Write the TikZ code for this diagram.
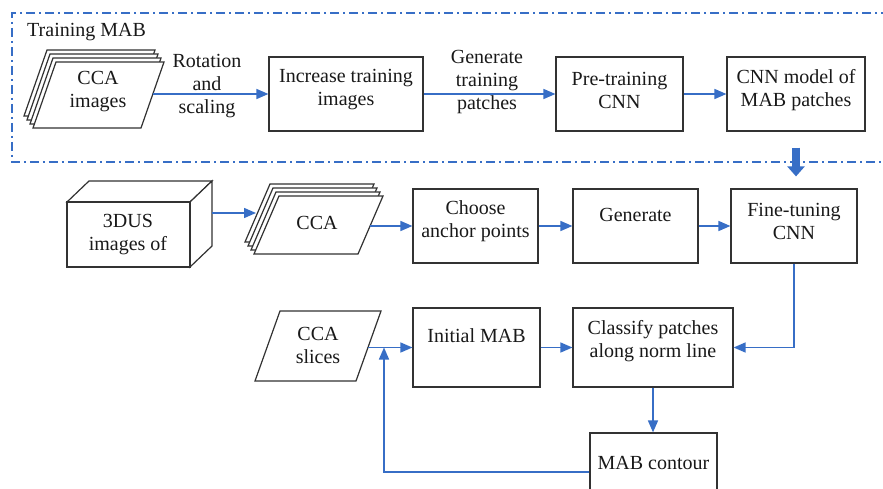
\documentclass[tikz,border=0pt]{standalone}
\usepackage{fontspec}
\setmainfont{Liberation Serif}
\usetikzlibrary{arrows.meta}
\definecolor{lblue}{RGB}{55,110,198}
\definecolor{bdr}{RGB}{50,50,50}
\definecolor{ink}{RGB}{25,25,25}
\begin{document}
\begin{tikzpicture}[x=1pt,y=-1pt,
  box/.style={draw=bdr, line width=1.2pt, fill=white, inner sep=0pt},
  txt/.style={font=\fontsize{20}{23}\selectfont, text=ink, align=center, inner sep=0pt},
  conn/.style={draw=lblue, line width=1.5pt, -{Triangle[length=12pt,width=10pt]}},
  shp/.style={draw=bdr, line width=1.2pt, fill=white, line join=miter},
  frame/.style={draw=lblue, line width=1.5pt, dash pattern=on 9pt off 4pt on 2pt off 4pt}]
\clip (0,0) rectangle (883,489);
\fill[white] (0,0) rectangle (883,489);

% training frame (open on the right)
\draw[frame] (890,13) -- (12,13) -- (12,162) -- (890,162);
\node[txt, anchor=west] (trainlbl) at (27,32) {Training MAB};

% ---- top row ----
\foreach \k in {3,2,1,0}
  \draw[shp, shift={(-3*\k,-4*\k)}] (33,128) -- (141,128) -- (164,62) -- (56,62) -- cycle;
\node[txt] (ccaimg) at (98,92) {CCA\\images};
\coordinate (ccaimgE) at (152.5,94);

\node[box, minimum width=154pt, minimum height=74pt] (inc) at (346,94) {};
\node[txt] (inctxt) at (346,90) {Increase training\\images};
\node[box, minimum width=127pt, minimum height=74pt] (pre) at (619.5,94) {};
\node[txt] (pretxt) at (619.5,90) {Pre-training\\CNN};
\node[box, minimum width=138pt, minimum height=74pt] (model) at (796,94) {};
\node[txt] (modeltxt) at (796,90) {CNN model of\\MAB patches};

\draw[conn] (ccaimgE) -- (inc.west);
\node[txt] (rot) at (207,86) {Rotation\\and\\scaling};
\draw[conn] (inc.east) -- (pre.west);
\node[txt] (gtp) at (487,82) {Generate\\training\\patches};
\draw[conn] (pre.east) -- (model.west);

% ---- middle row ----
\draw[shp] (67,202) -- (89,181) -- (212,181) -- (190,202) -- cycle;
\draw[shp] (190,202) -- (212,181) -- (212,246) -- (190,267) -- cycle;
\node[box, minimum width=123pt, minimum height=65pt] (cube) at (128.5,234.5) {};
\node[txt] (cubetxt) at (128,235) {3DUS\\images of};

\foreach \k in {3,2,1,0}
  \draw[shp, shift={(-3*\k,-4*\k)}] (254,254) -- (358,254) -- (383,196) -- (279,196) -- cycle;
\node[txt] (cca) at (317,223) {CCA};
\coordinate (cubeE) at (212,213);
\coordinate (ccaW) at (256,213);
\coordinate (ccaE) at (369.5,226);

\node[box, minimum width=125pt, minimum height=74pt] (choose) at (475.5,226) {};
\node[txt] (choosetxt) at (475.5,221) {Choose\\anchor points};
\node[box, minimum width=125pt, minimum height=74pt] (gen) at (635.5,226) {};
\node[txt] (gentxt) at (635.5,215) {Generate};
\node[box, minimum width=126pt, minimum height=74pt] (fine) at (794,226) {};
\node[txt] (finetxt) at (794,221) {Fine-tuning\\CNN};

\draw[lblue, line width=8pt, -{Triangle[length=10pt,width=17pt]}, shorten <=16pt, shorten >=12pt]
  (model.south) -- (model.south |- fine.north);

\draw[conn] (cubeE) -- (ccaW);
\draw[conn] (ccaE) -- (choose.west);
\draw[conn] (choose.east) -- (gen.west);
\draw[conn] (gen.east) -- (fine.west);

% ---- bottom row ----
\draw[shp] (255,381) -- (356,381) -- (381,311) -- (280,311) -- cycle;
\node[txt] (slices) at (318,345) {CCA\\slices};
\coordinate (slicesE) at (368,347.5);

\node[box, minimum width=127pt, minimum height=79pt] (initial) at (476.5,347.5) {};
\node[txt] (initialtxt) at (476.5,336) {Initial MAB};
\node[box, minimum width=160pt, minimum height=79pt] (classify) at (653,347.5) {};
\node[txt] (classifytxt) at (653,341.5) {Classify patches\\along norm line};
\node[box, minimum width=127pt, minimum height=78pt] (contour) at (653.5,472) {};
\node[txt] (contourtxt) at (653.5,463) {MAB contour};
\coordinate (jn) at (384,347.5);

\draw[conn] (fine.south) |- (classify.east);
\draw[conn] (slicesE) -- (initial.west);
\draw[conn] (initial.east) -- (classify.west);
\draw[conn] (classify.south) -- (classify.south |- contour.north);
\draw[conn] (contour.west) -| (jn);
\end{tikzpicture}
\end{document}
